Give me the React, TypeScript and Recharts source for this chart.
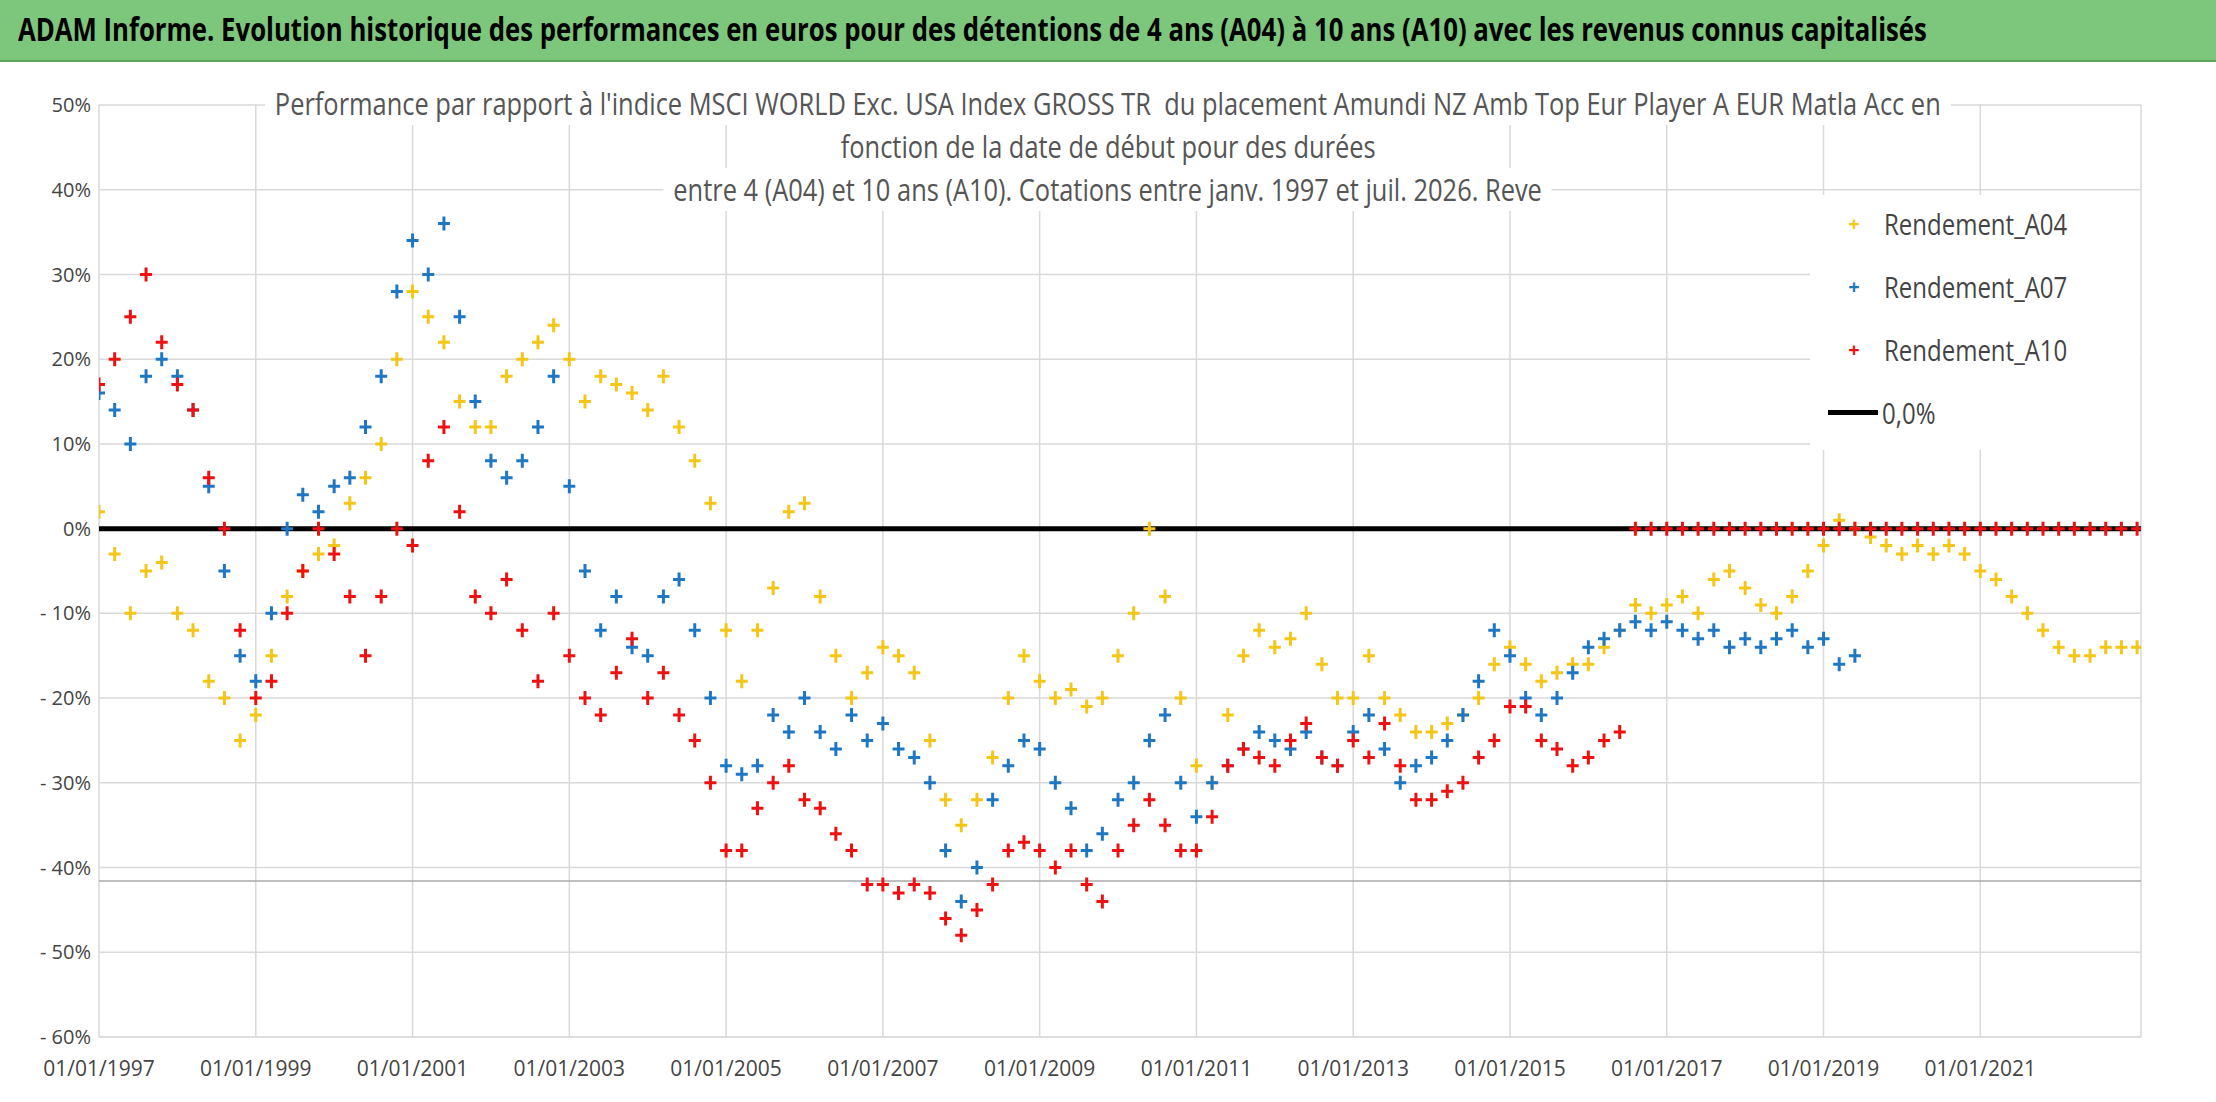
import { ScatterChart, Scatter, XAxis, YAxis, CartesianGrid, ReferenceLine } from "recharts";

const START = 1997;
const STEP = 0.2;

const A04 = [2,-3,-10,-5,-4,-10,-12,-18,-20,-25,-22,-15,-8,-5,-3,-2,3,6,10,20,28,25,22,15,12,12,18,20,22,24,20,15,18,17,16,14,18,12,8,3,-12,-18,-12,-7,2,3,-8,-15,-20,-17,-14,-15,-17,-25,-32,-35,-32,-27,-20,-15,-18,-20,-19,-21,-20,-15,-10,0,-8,-20,-28,-30,-22,-15,-12,-14,-13,-10,-16,-20,-20,-15,-20,-22,-24,-24,-23,-22,-20,-16,-14,-16,-18,-17,-16,-16,-14,-12,-9,-10,-9,-8,-10,-6,-5,-7,-9,-10,-8,-5,-2,1,0,-1,-2,-3,-2,-3,-2,-3,-5,-6,-8,-10,-12,-14,-15,-15,-14,-14,-14];
const A07 = [16,14,10,18,20,18,14,5,-5,-15,-18,-10,0,4,2,5,6,12,18,28,34,30,36,25,15,8,6,8,12,18,5,-5,-12,-8,-14,-15,-8,-6,-12,-20,-28,-29,-28,-22,-24,-20,-24,-26,-22,-25,-23,-26,-27,-30,-38,-44,-40,-32,-28,-25,-26,-30,-33,-38,-36,-32,-30,-25,-22,-30,-34,-30,-28,-26,-24,-25,-26,-24,-27,-28,-24,-22,-26,-30,-28,-27,-25,-22,-18,-12,-15,-20,-22,-20,-17,-14,-13,-12,-11,-12,-11,-12,-13,-12,-14,-13,-14,-13,-12,-14,-13,-16,-15];
const A10 = [17,20,25,30,22,17,14,6,0,-12,-20,-18,-10,-5,0,-3,-8,-15,-8,0,-2,8,12,2,-8,-10,-6,-12,-18,-10,-15,-20,-22,-17,-13,-20,-17,-22,-25,-30,-38,-38,-33,-30,-28,-32,-33,-36,-38,-42,-42,-43,-42,-43,-46,-48,-45,-42,-38,-37,-38,-40,-38,-42,-44,-38,-35,-32,-35,-38,-38,-34,-28,-26,-27,-28,-25,-23,-27,-28,-25,-27,-23,-28,-32,-32,-31,-30,-27,-25,-21,-21,-25,-26,-28,-27,-25,-24,0,0,0,0,0,0,0,0,0,0,0,0,0,0,0,0,0,0,0,0,0,0,0,0,0,0,0,0,0,0,0,0,0];

const X_TICKS = [1997,1999,2001,2003,2005,2007,2009,2011,2013,2015,2017,2019,2021];
const Y_TICKS = [-60,-50,-40,-30,-20,-10,0,10,20,30,40,50];

const toPoints = (vals: number[]) => vals.map((v, i) => ({ x: START + i * STEP, y: v }));

const Plus = (color: string) => (p: any) => (
  <path d={`M${p.cx - 6},${p.cy}h12M${p.cx},${p.cy - 7}v14`} stroke={color} strokeWidth={3} fill="none" />
);

const FONT = "'Open Sans', sans-serif";

const LEGEND = [
  { name: "Rendement_A04", color: "#f5c518" },
  { name: "Rendement_A07", color: "#1f77c4" },
  { name: "Rendement_A10", color: "#ee1111" },
];

const narrow = (s: number): React.CSSProperties => ({ display: "inline-block", transform: `scaleX(${s})`, transformOrigin: "center", whiteSpace: "nowrap" });

export default function App() {
  return (
    <div style={{ position: "fixed", left: 0, top: 0, width: 2216, height: 1102, background: "#fff", fontFamily: FONT, overflow: "hidden" }}>
      <div style={{ position: "absolute", left: 0, top: 0, width: 2216, height: 60, background: "#7dc77d", borderBottom: "2px solid #5aa55a", fontWeight: "bold", fontSize: 33, lineHeight: "58px", color: "#000", whiteSpace: "nowrap" }}>
        <span style={{ ...narrow(0.78), transformOrigin: "left", marginLeft: 18 }}>ADAM Informe. Evolution historique des performances en euros pour des détentions de 4 ans (A04) à 10 ans (A10) avec les revenus connus capitalisés</span>
      </div>
      <div style={{ position: "absolute", top: 64, left: 0 }}>
        <ScatterChart width={2216} height={1038} margin={{ top: 41, right: 75, bottom: 20, left: 29 }}>
          <CartesianGrid stroke="#d9d9d9" strokeWidth={1.5} />
          <XAxis type="number" dataKey="x" domain={[1997, 2023.05]} ticks={X_TICKS} tickFormatter={(v) => `01/01/${v}`} axisLine={{ stroke: "#d9d9d9" }} tickLine={false} tick={{ fill: "#444", fontSize: 21, fontFamily: FONT }} tickMargin={18} height={45} allowDataOverflow />
          <YAxis type="number" dataKey="y" domain={[-60, 50]} ticks={Y_TICKS} tickFormatter={(v) => (v < 0 ? `- ${-v}%` : `${v}%`)} axisLine={false} tickLine={false} tick={{ fill: "#444", fontSize: 20, fontFamily: FONT }} width={70} />
          <ReferenceLine y={-41.6} stroke="#aaa" strokeWidth={1.5} />
          <ReferenceLine y={0} stroke="#000" strokeWidth={5} />
          <Scatter data={toPoints(A04)} shape={Plus(LEGEND[0].color)} isAnimationActive={false} />
          <Scatter data={toPoints(A07)} shape={Plus(LEGEND[1].color)} isAnimationActive={false} />
          <Scatter data={toPoints(A10)} shape={Plus(LEGEND[2].color)} isAnimationActive={false} />
        </ScatterChart>
      </div>
      <div style={{ position: "absolute", left: 0, top: 82, width: 2216, textAlign: "center", color: "#555", fontSize: 31, lineHeight: "43px" }}>
        <span style={{ ...narrow(0.82), background: "#fff", padding: "0 12px" }}>Performance par rapport à l'indice MSCI WORLD Exc. USA Index GROSS TR&nbsp; du placement Amundi NZ Amb Top Eur Player A EUR Matla Acc en</span><br />
        <span style={{ ...narrow(0.82), background: "#fff", padding: "0 12px" }}>fonction de la date de début pour des durées</span><br />
        <span style={{ ...narrow(0.82), background: "#fff", padding: "0 12px" }}>entre 4 (A04) et 10 ans (A10). Cotations entre janv. 1997 et juil. 2026. Reve</span>
      </div>
      <div style={{ position: "absolute", left: 1810, top: 195, width: 330, height: 255, background: "#fff" }}>
        {LEGEND.map((l, i) => (
          <div key={l.name} style={{ position: "absolute", left: 14, top: 8 + i * 63, fontSize: 30, color: "#444", display: "flex", alignItems: "center" }}>
            <span style={{ color: l.color, fontSize: 20, width: 60, textAlign: "center", fontWeight: "bold" }}>+</span>
            <span style={{ ...narrow(0.8), transformOrigin: "left" }}>{l.name}</span>
          </div>
        ))}
        <div style={{ position: "absolute", left: 14, top: 197, fontSize: 30, color: "#444", display: "flex", alignItems: "center" }}>
          <span style={{ display: "inline-block", width: 50, height: 5, background: "#000", margin: "0 4px 0 4px" }} />
          <span style={{ ...narrow(0.8), transformOrigin: "left" }}>0,0%</span>
        </div>
      </div>
    </div>
  );
}
